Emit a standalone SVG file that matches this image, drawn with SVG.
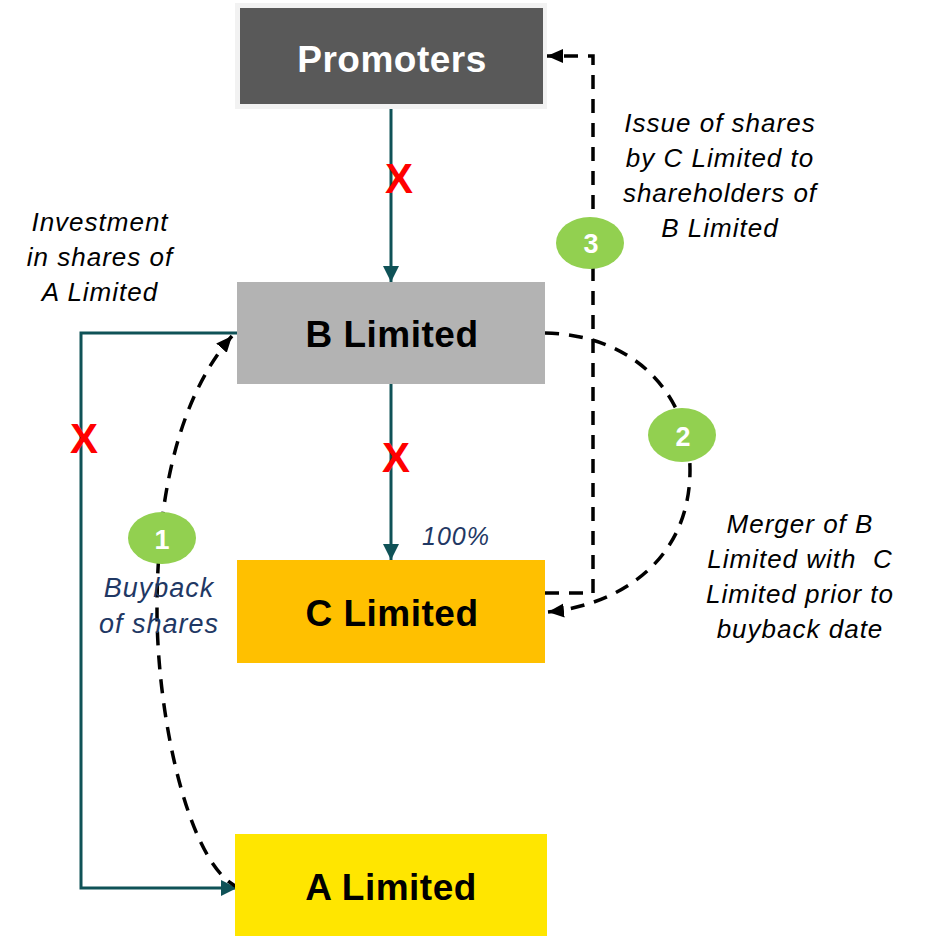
<svg xmlns="http://www.w3.org/2000/svg" width="925" height="937" viewBox="0 0 925 937">
  <style>
    .title { font-family: "Liberation Sans", Arial, sans-serif; font-size: 37px; font-weight: bold; letter-spacing: 0.5px; text-anchor: middle; }
    .note { font-family: "Liberation Sans", Arial, sans-serif; font-size: 26px; font-style: italic; letter-spacing: 1px; text-anchor: middle; fill: #000; white-space: pre; }
    .navy { font-family: "Liberation Sans", Arial, sans-serif; font-style: italic; letter-spacing: 1px; text-anchor: middle; fill: #1f3864; }
    .cross { font-family: "Liberation Sans", Arial, sans-serif; font-size: 42px; font-weight: bold; text-anchor: middle; fill: #ff0000; }
    .step { fill: #92d050; }
    .stepnum { font-family: "Liberation Sans", Arial, sans-serif; font-size: 27px; font-weight: bold; text-anchor: middle; fill: #ffffff; }
    .solid { fill: none; stroke: #0f5257; stroke-width: 3; }
    .dashed { fill: none; stroke: #000; stroke-width: 3.5; stroke-dasharray: 14 10; }
  </style>
  <defs>
    <marker id="tealHead" markerUnits="userSpaceOnUse" markerWidth="16" markerHeight="16" viewBox="0 0 16 16" refX="16" refY="8" orient="auto">
      <path d="M0,0 L16,8 L0,16 Z" fill="#0f5257"/>
    </marker>
    <marker id="blackHead" markerUnits="userSpaceOnUse" markerWidth="16" markerHeight="16" viewBox="0 0 16 16" refX="16" refY="8" orient="auto">
      <path d="M0,1 L16,8 L0,15 Z" fill="#000"/>
    </marker>
  </defs>

  <rect width="925" height="937" fill="#ffffff"/>

  <!-- connectors -->
  <g id="connectors">
    <!-- ownership links (solid) -->
    <path class="solid" d="M391,107 V282" marker-end="url(#tealHead)"/>
    <path class="solid" d="M391,384 V560" marker-end="url(#tealHead)"/>
    <path class="solid" d="M240,333 H81 V888 H237" marker-end="url(#tealHead)"/>
    <!-- step 1: buyback -->
    <path class="dashed" d="M240,888 C190,870 157,720 157,610 C157,480 185,390 232,336" marker-end="url(#blackHead)"/>
    <!-- step 2: merger -->
    <path class="dashed" d="M545,333 C640,335 690,400 690,470 C690,560 620,605 548,612" marker-end="url(#blackHead)"/>
    <!-- step 3: share issue -->
    <path class="dashed" d="M545,593 H593 V56 H547" marker-end="url(#blackHead)"/>
  </g>

  <!-- blocked links -->
  <g id="crosses">
    <text class="cross" x="399" y="193">X</text>
    <text class="cross" x="396" y="472">X</text>
    <text class="cross" x="84" y="453">X</text>
  </g>

  <!-- entities -->
  <g id="promoters">
    <rect x="235" y="3" width="312" height="106" fill="#f2f2f2"/>
    <rect x="240" y="8" width="303" height="96" fill="#595959"/>
    <text class="title" x="392" y="72" fill="#ffffff">Promoters</text>
  </g>
  <g id="b-limited">
    <rect x="237" y="282" width="308" height="102" fill="#b3b3b3"/>
    <text class="title" x="392" y="347" fill="#000">B Limited</text>
  </g>
  <g id="c-limited">
    <rect x="237" y="560" width="308" height="103" fill="#ffc000"/>
    <text class="title" x="392" y="626" fill="#000">C Limited</text>
  </g>
  <g id="a-limited">
    <rect x="235" y="834" width="312" height="102" fill="#ffe600"/>
    <text class="title" x="391" y="900" fill="#000">A Limited</text>
  </g>

  <!-- step badges -->
  <g id="step-1">
    <ellipse class="step" cx="162" cy="538" rx="34" ry="26"/>
    <text class="stepnum" x="162" y="549">1</text>
  </g>
  <g id="step-2">
    <ellipse class="step" cx="682" cy="435" rx="34" ry="27"/>
    <text class="stepnum" x="683" y="446">2</text>
  </g>
  <g id="step-3">
    <ellipse class="step" cx="590" cy="243" rx="34" ry="26"/>
    <text class="stepnum" x="591" y="253">3</text>
  </g>

  <!-- annotations -->
  <g id="labels">
    <text class="note" x="100" y="231">Investment</text>
    <text class="note" x="100" y="266">in shares of</text>
    <text class="note" x="100" y="301">A Limited</text>

    <text class="note" x="720" y="132">Issue of shares</text>
    <text class="note" x="720" y="167">by C Limited to</text>
    <text class="note" x="720" y="202">shareholders of</text>
    <text class="note" x="720" y="237">B Limited</text>

    <text class="note" x="800" y="533">Merger of B</text>
    <text class="note" x="800" y="568">Limited with  C</text>
    <text class="note" x="800" y="603">Limited prior to</text>
    <text class="note" x="800" y="638">buyback date</text>

    <text class="navy" x="456" y="545" font-size="25">100%</text>
    <text class="navy" x="159" y="597" font-size="27">Buyback</text>
    <text class="navy" x="159" y="633" font-size="27">of shares</text>
  </g>
</svg>
